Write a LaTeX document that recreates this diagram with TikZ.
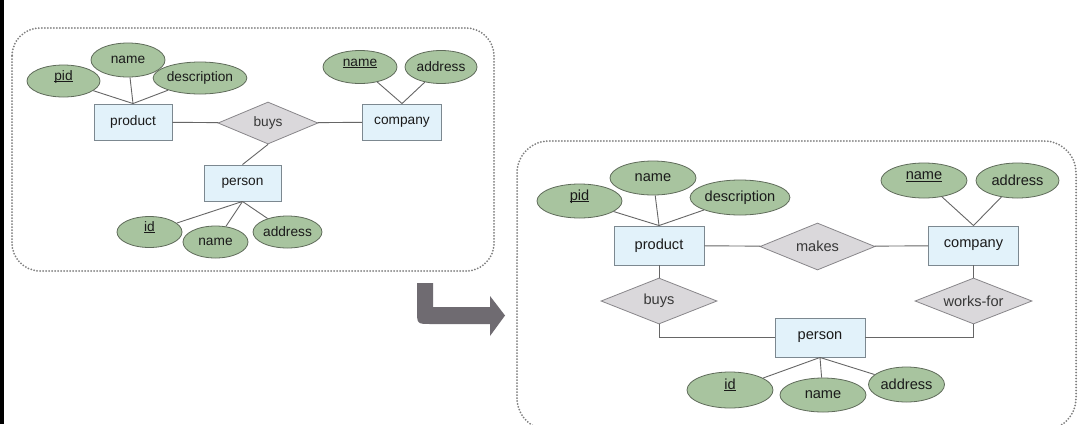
\documentclass[tikz,border=0pt]{standalone}
\usepackage{fontspec}
\setmainfont{Liberation Sans}
\usetikzlibrary{shapes.geometric}
\definecolor{entfill}{HTML}{E2F2FA}
\definecolor{entdraw}{HTML}{7C8890}
\definecolor{attrfill}{HTML}{A8C49F}
\definecolor{attrdraw}{HTML}{5F6B5A}
\definecolor{relfill}{HTML}{DAD8DB}
\definecolor{reldraw}{HTML}{88868A}
\definecolor{linkcol}{HTML}{666666}
\definecolor{txtcol}{HTML}{1A1A1A}
\definecolor{reltxt}{HTML}{383838}
\definecolor{boxcol}{HTML}{7E7E7E}
\definecolor{arrowcol}{HTML}{6F6B71}
\newcommand{\ulword}[1]{\underline{\smash{#1}}}
\tikzset{
  fsl/.style={font=\fontsize{13.7}{16}\selectfont},
  fsr/.style={font=\fontsize{14.6}{17}\selectfont},
  ent/.style={rectangle, draw=entdraw, fill=entfill, line width=0.9pt, inner sep=0pt, text=txtcol},
  attr/.style={ellipse, draw=attrdraw, fill=attrfill, line width=0.8pt, inner sep=0pt, text=txtcol},
  rel/.style={diamond, draw=reldraw, fill=relfill, line width=0.8pt, inner sep=0pt, aspect=2.5, text=reltxt},
  link/.style={draw=linkcol, line width=0.9pt},
  framebox/.style={draw=boxcol, line width=2pt, dash pattern=on 0pt off 3pt, line cap=round, rounded corners=28pt},
}
\begin{document}
\begin{tikzpicture}[x=1pt,y=-1pt]
\useasboundingbox (0,0) rectangle (1086,424);
\fill[white] (0,0) rectangle (1086,424);
\fill[black] (0,0) rectangle (3.5,424);
% frames
\draw[framebox] (12,28) rectangle (494,271);
\begin{scope}
\clip (0,0) rectangle (1086,424);
\draw[framebox, rounded corners=32pt] (517,141) rectangle (1076,430);
\end{scope}
% arrow
\fill[arrowcol] (433,283) -- (417,283) -- (417,310) .. controls (417,324) .. (431,324) -- (490,324) -- (490,336) -- (505,315.5) -- (490,296) -- (490,307) -- (433,307) -- cycle;

% ---------- left diagram ----------
\begin{scope}[fsl]
\node[ent, minimum width=78pt, minimum height=36pt] (lprod) at (133,122) {product};
\node[rel, minimum width=100pt, minimum height=42pt] (lbuys) at (268,123) {buys};
\node[ent, minimum width=79pt, minimum height=36pt] (lcomp) at (402,122) {company};
\node[ent, minimum width=77pt, minimum height=36pt] (lpers) at (242.5,183) {person};
\node[attr, minimum width=73pt, minimum height=32pt] (lpid) at (63.5,81) {\ulword{pid}};
\node[attr, minimum width=74pt, minimum height=34pt] (lname) at (128,60) {name};
\node[attr, minimum width=80pt, minimum height=32pt] (ldesc) at (200,78) {description};
\node[attr, minimum width=74pt, minimum height=33pt] (lcname) at (360,67) {\ulword{name}};
\node[attr, minimum width=72pt, minimum height=33pt] (lcaddr) at (441,67) {address};
\node[attr, minimum width=65pt, minimum height=31pt] (lid) at (149.5,232) {\ulword{id}};
\node[attr, minimum width=65pt, minimum height=32pt] (lpname) at (215.5,242) {name};
\node[attr, minimum width=65pt, minimum height=32pt] (lpaddr) at (287.5,232) {address};
\end{scope}
\path[link] (lprod) -- (lbuys) -- (lcomp);
\path[link] (lbuys.south) -- (lpers.north);
\path[link] (lpid) -- (lprod.north);
\path[link] (lname) -- (lprod.north);
\path[link] (ldesc) -- (lprod.north);
\path[link] (lcname) -- (lcomp.north);
\path[link] (lcaddr) -- (lcomp.north);
\path[link] (lpers.south) -- (lid);
\path[link] (lpers.south) -- (lpname);
\path[link] (lpers.south) -- (lpaddr);

% ---------- right diagram ----------
\begin{scope}[fsr]
\node[ent, minimum width=90pt, minimum height=39pt] (rprod) at (659,245.5) {product};
\node[rel, minimum width=115pt, minimum height=47pt] (rmakes) at (817.5,246.5) {makes};
\node[ent, minimum width=90pt, minimum height=39pt] (rcomp) at (973.5,245.5) {company};
\node[rel, minimum width=116pt, minimum height=46pt] (rbuys) at (659,301) {buys};
\node[rel, minimum width=117pt, minimum height=46pt] (rworks) at (973.5,301) {works-for};
\node[ent, minimum width=90pt, minimum height=39pt] (rpers) at (820,337.5) {person};
\node[attr, minimum width=85pt, minimum height=34pt] (rpid) at (579.5,201) {\ulword{pid}};
\node[attr, minimum width=86pt, minimum height=34pt] (rname) at (653,178) {name};
\node[attr, minimum width=96pt, minimum height=35pt] (rdesc) at (740,197.5) {description};
\node[attr, minimum width=86pt, minimum height=35pt] (rcname) at (924,180.5) {\ulword{name}};
\node[attr, minimum width=83pt, minimum height=35pt] (rcaddr) at (1017.5,180.5) {address};
\node[attr, minimum width=86pt, minimum height=36pt] (rid) at (730,390) {\ulword{id}};
\node[attr, minimum width=86pt, minimum height=34pt] (rpname) at (823,395) {name};
\node[attr, minimum width=76pt, minimum height=35pt] (rpaddr) at (906.5,384.5) {address};
\end{scope}
\path[link] (rprod) -- (rmakes) -- (rcomp);
\path[link] (rprod) -- (rbuys);
\path[link] (rcomp) -- (rworks);
\path[link] (rbuys.south) |- (rpers.west);
\path[link] (rworks.south) |- (rpers.east);
\path[link] (rpid) -- (rprod.north);
\path[link] (rname) -- (rprod.north);
\path[link] (rdesc) -- (rprod.north);
\path[link] (rcname) -- (rcomp.north);
\path[link] (rcaddr) -- (rcomp.north);
\path[link] (rpers.south) -- (rid);
\path[link] (rpers.south) -- (rpname);
\path[link] (rpers.south) -- (rpaddr);
\end{tikzpicture}
\end{document}
